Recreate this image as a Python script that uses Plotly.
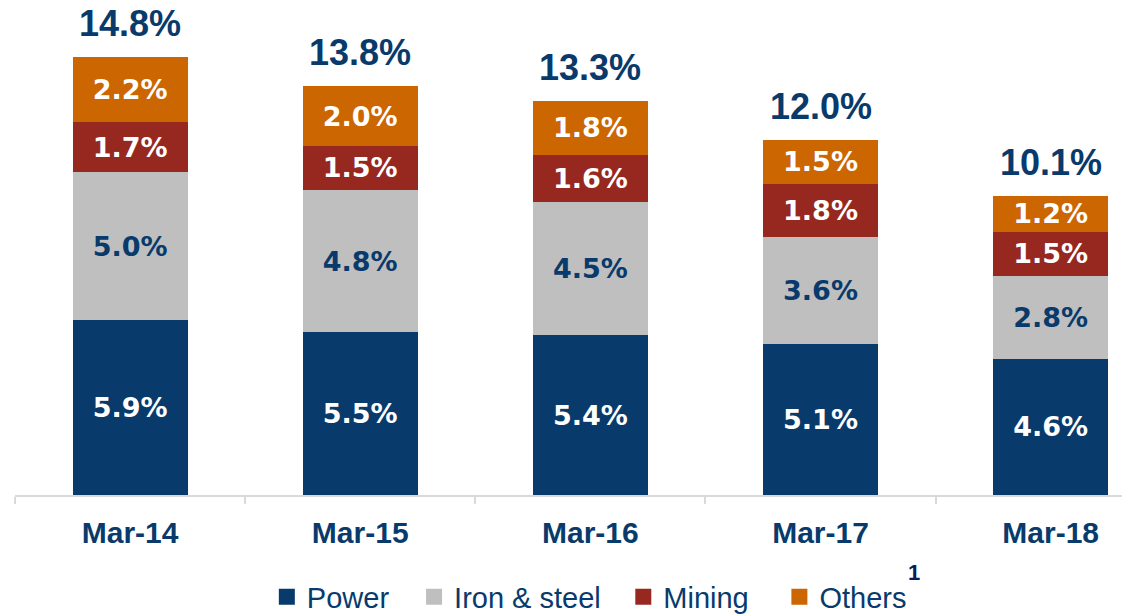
import plotly.graph_objects as go

categories = ["Mar-14", "Mar-15", "Mar-16", "Mar-17", "Mar-18"]
power = [5.9, 5.5, 5.4, 5.1, 4.6]
iron_steel = [5.0, 4.8, 4.5, 3.6, 2.8]
mining = [1.7, 1.5, 1.6, 1.8, 1.5]
others = [2.2, 2.0, 1.8, 1.5, 1.2]
totals = [14.8, 13.8, 13.3, 12.0, 10.1]

NAVY = "#083A6B"
series = [
    ("Power", power, NAVY, "white"),
    ("Iron & steel", iron_steel, "#BFBFBF", NAVY),
    ("Mining", mining, "#96281F", "white"),
    ("Others", others, "#CC6600", "white"),
]
legend_ids = ["legend", "legend2", "legend3", "legend4"]
legend_x = [0.2275, 0.3605, 0.5495, 0.6905]

fig = go.Figure()
for name, vals, color, tcolor in series:
    fig.add_trace(go.Bar(
        x=categories, y=vals, name=name, showlegend=False,
        marker=dict(color=color, line=dict(width=0)),
        width=0.5,
        text=[f"{v:.1f}%" for v in vals],
        textposition="inside", insidetextanchor="middle", textangle=0,
        constraintext="none",
        insidetextfont=dict(family="DejaVu Sans", size=27, color=tcolor, weight="bold"),
        hoverinfo="skip",
    ))
# legend entries with square swatches
for (name, vals, color, tcolor), lid in zip(series, legend_ids):
    fig.add_trace(go.Scatter(
        x=[None], y=[None], mode="markers", name=name, legend=lid,
        marker=dict(symbol="square", size=16, color=color),
        showlegend=True, hoverinfo="skip",
    ))

for c, t in zip(categories, totals):
    fig.add_annotation(x=c, y=t, text=f"<b>{t:.1f}%</b>", showarrow=False,
                       yanchor="bottom", yshift=11,
                       font=dict(family="Liberation Sans", size=36, color=NAVY))

fig.add_annotation(xref="paper", yref="paper", x=0.805, y=-0.186, text="<b>1</b>",
                   showarrow=False, xanchor="left", yanchor="bottom",
                   font=dict(family="Liberation Sans", size=22, color="#0A1A5A"))

legend_style = dict(orientation="h", xanchor="left", y=-0.206, yanchor="middle",
                    font=dict(family="Liberation Sans", size=29, color=NAVY),
                    itemwidth=30, bgcolor="rgba(0,0,0,0)")
layout_legends = {lid: dict(legend_style, x=lx) for lid, lx in zip(legend_ids, legend_x)}

fig.update_layout(
    barmode="stack",
    width=1122, height=614,
    margin=dict(l=14.5, r=0, t=0, b=119, autoexpand=False),
    paper_bgcolor="white", plot_bgcolor="white",
    showlegend=True,
    bargap=0.5,
    **layout_legends,
)
fig.update_xaxes(
    type="category", range=[-0.5, 4.31], automargin=False,
    showline=True, linecolor="#D9D9D9", linewidth=2,
    ticks="outside", tickson="boundaries", ticklen=7, tickcolor="#D9D9D9", tickwidth=2,
    ticklabelstandoff=10,
    tickfont=dict(family="Liberation Sans", size=30, color=NAVY, weight="bold"),
    showgrid=False,
)
fig.update_yaxes(range=[0, 16.72], visible=False, showgrid=False, automargin=False)

fig.write_html("out.html", config={"displayModeBar": False},
               post_script="document.body.style.margin='0px';document.body.style.overflow='hidden';")
